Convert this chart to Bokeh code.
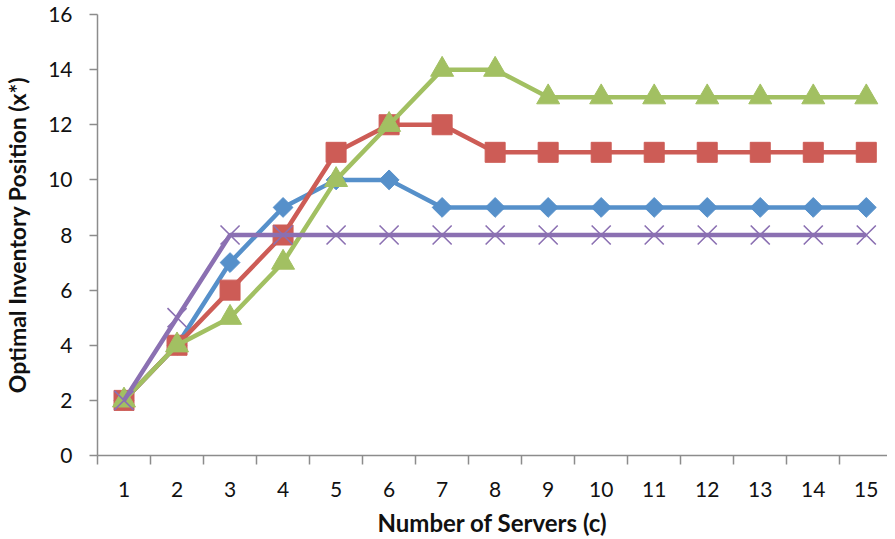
from bokeh.plotting import figure
from bokeh.models import Range1d, FixedTicker
from bokeh.embed import file_html
from bokeh.resources import INLINE
import math

servers = list(range(1, 16))
series_blue = [2, 4, 7, 9, 10, 10, 9, 9, 9, 9, 9, 9, 9, 9, 9]
series_red = [2, 4, 6, 8, 11, 12, 12, 11, 11, 11, 11, 11, 11, 11, 11]
series_green = [2, 4, 5, 7, 10, 12, 14, 14, 13, 13, 13, 13, 13, 13, 13]
series_purple = [2, 5, 8, 8, 8, 8, 8, 8, 8, 8, 8, 8, 8, 8, 8]
y_ticks = [0, 2, 4, 6, 8, 10, 12, 14, 16]

FONT = "Lato"

p = figure(width=887, height=539, output_backend="svg", toolbar_location=None,
           x_range=Range1d(0.5, 15.4), y_range=Range1d(0, 16),
           min_border_left=91, min_border_right=0, min_border_top=14,
           min_border_bottom=83)
p.outline_line_color = None
p.grid.grid_line_color = None
p.background_fill_color = "white"

# axes
xa = p.xaxis[0]
xa.ticker = FixedTicker(ticks=servers, minor_ticks=[i + 0.5 for i in range(0, 16)])
xa.major_tick_line_color = None
xa.minor_tick_line_color = "#8c8c8c"
xa.minor_tick_line_width = 1.5
xa.minor_tick_out = 9
xa.minor_tick_in = 0
xa.axis_line_color = "#8c8c8c"
xa.axis_line_width = 1.5
xa.major_label_text_font = FONT
xa.major_label_text_font_size = "21px"
xa.major_label_text_color = "#111111"
xa.major_label_standoff = 17
xa.axis_label = "Number of Servers (c)"
xa.axis_label_text_font = FONT
xa.axis_label_text_font_style = "bold"
xa.axis_label_text_font_size = "24px"
xa.axis_label_text_color = "#111111"
xa.axis_label_standoff = 8

ya = p.yaxis[0]
ya.ticker = FixedTicker(ticks=y_ticks, minor_ticks=[])
ya.major_tick_line_color = "#8c8c8c"
ya.major_tick_line_width = 1.5
ya.major_tick_out = 8
ya.major_tick_in = 0
ya.axis_line_color = "#8c8c8c"
ya.axis_line_width = 1.5
ya.major_label_text_font = FONT
ya.major_label_text_font_size = "21px"
ya.major_label_text_color = "#111111"
ya.major_label_standoff = 17
ya.axis_label = "Optimal Inventory Position (x*)"
ya.axis_label_text_font = FONT
ya.axis_label_text_font_style = "bold"
ya.axis_label_text_font_size = "23px"
ya.axis_label_text_color = "#111111"
ya.axis_label_standoff = 14

blue = "#5690CA"
red = "#CD5C56"
green = "#A2C062"
purple = "#8B70B2"
LW = 4.5

# blue diamonds
p.line(servers, series_blue, line_color=blue, line_width=LW)
p.scatter(servers, series_blue, marker="square", angle=math.pi / 4, size=14,
          fill_color=blue, line_color=blue)
# red squares
p.line(servers, series_red, line_color=red, line_width=LW)
p.scatter(servers, series_red, marker="square", size=20,
          fill_color=red, line_color=red)
# green triangles
p.line(servers, series_green, line_color=green, line_width=LW)
p.scatter(servers, series_green, marker="triangle", size=23,
          fill_color=green, line_color=green)
# purple crosses
p.line(servers, series_purple, line_color=purple, line_width=LW)
p.scatter(servers, series_purple, marker="x", size=27,
          line_color=purple, line_width=1.6)

open("out.html", "w").write(file_html(p, INLINE))
